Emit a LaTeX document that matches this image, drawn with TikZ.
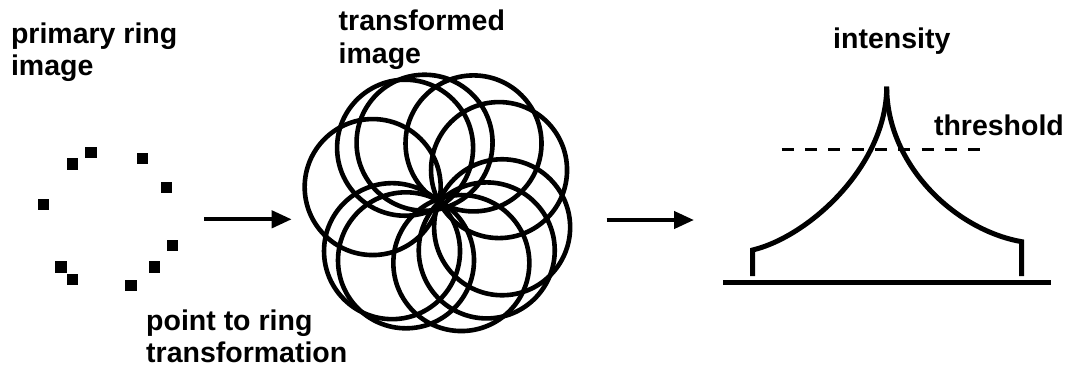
\documentclass[tikz,border=0pt]{standalone}
\usepackage{fontspec}
\setmainfont{Liberation Sans}
\usetikzlibrary{arrows.meta}
\begin{document}
\begin{tikzpicture}[x=1pt,y=-1pt,
  lbl/.style={font=\fontsize{28.5}{32.5}\selectfont\bfseries, inner sep=0pt, anchor=base west},
  pixsq/.style={rectangle, fill=black, draw=none, minimum size=11.5pt, inner sep=0pt},
  ring/.style={line width=4.6pt},
  flow/.style={line width=4.2pt, -{Triangle[length=20pt,width=17pt]}},
  profile/.style={line width=5pt, line join=miter},
  axis/.style={line width=4.7pt},
  thr/.style={line width=2.5pt, dash pattern=on 12pt off 11.3pt}]
\useasboundingbox (0,0) rectangle (1076,370);

% primary ring image: scattered pixels
\foreach \n/\x/\y in {1/90.8/152.5, 2/72.7/164.2, 3/142.7/158.3, 4/166.3/187.5,
    5/43.7/204.7, 6/172.7/245.3, 7/61/267.2, 8/72.7/279.7, 9/154.5/267.2, 10/131.2/285.3}
  \node[pixsq] (p\n) at (\x,\y) {};

% transformed image: one ring per pixel, centred around the hub
\coordinate (hub) at (439,202);
\foreach \a/\d in {-103.7/61, -122.0/64, -59.5/68, -28.0/68, -167.3/68,
    21.8/68, 133.7/68, 119.5/67, 45.4/68, 69.9/65}
  \draw[ring] ([shift={(\a:\d)}]hub) circle[radius=68];

% arrows between the stages
\coordinate (a1s) at (204,219.3);
\coordinate (a1e) at (291.7,219.3);
\coordinate (a2s) at (606.7,220);
\coordinate (a2e) at (694,220);
\draw[flow] (a1s) -- (a1e);
\draw[flow] (a2s) -- (a2e);

% intensity profile
\coordinate (lfoot) at (752.7,276);
\coordinate (ltop) at (752.7,250);
\coordinate (peak) at (886.7,86.7);
\coordinate (rtop) at (1021.7,241.7);
\coordinate (rfoot) at (1021.7,276);
\draw[profile] (lfoot) -- (ltop) .. controls (810,236) and (886.7,165) .. (peak);
\draw[profile] (rfoot) -- (rtop) .. controls (955,230) and (886.7,165) .. (peak);
\coordinate (axl) at (723.3,282.7);
\coordinate (axr) at (1050.7,282.7);
\draw[axis] (axl) -- (axr);
\coordinate (thl) at (781.7,149.3);
\coordinate (thr) at (980,149.3);
\draw[thr] (thl) -- (thr);

% labels
\node[lbl] (lprim) at (10.8,43.3) {\begin{tabular}[t]{@{}l@{}}primary ring\\image\end{tabular}};
\node[lbl] (ltrans) at (338.5,30.7) {\begin{tabular}[t]{@{}l@{}}transformed\\image\end{tabular}};
\node[lbl] (lpoint) at (146,330) {\begin{tabular}[t]{@{}l@{}}point to ring\\transformation\end{tabular}};
\node[lbl] (lint) at (833,48.3) {intensity};
\node[lbl] (lthr) at (933.8,135) {threshold};
\end{tikzpicture}
\end{document}
